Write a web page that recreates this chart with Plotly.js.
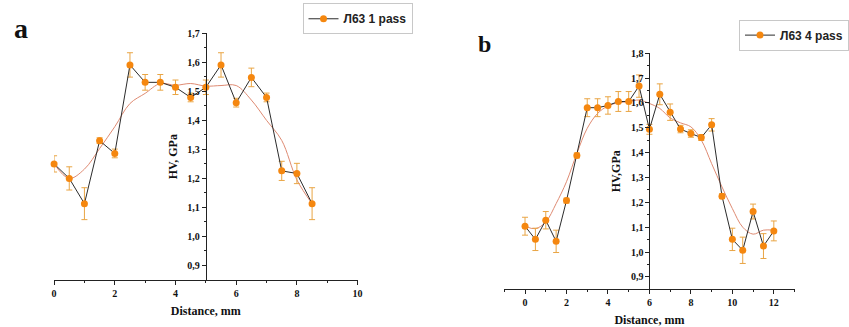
<!DOCTYPE html>
<html>
<head>
<meta charset="utf-8">
<script src="https://cdn.plot.ly/plotly-3.0.1.min.js"></script>
<style>html,body{margin:0;padding:0;background:#fff;}#chart{width:849px;height:327px;}</style>
</head>
<body>
<div id="chart"></div>
<script>
// ---- Data: panel a (Л63 1 pass) ----
const xA = [0, 0.5, 1, 1.5, 2, 2.5, 3, 3.5, 4, 4.5, 5, 5.5, 6, 6.5, 7, 7.5, 8, 8.5];
const hvA = [1.25, 1.20, 1.113, 1.33, 1.286, 1.591, 1.531, 1.531, 1.514, 1.479, 1.514, 1.591, 1.461, 1.548, 1.479, 1.226, 1.217, 1.113];
const errA = [0.028, 0.04, 0.055, 0.01, 0.015, 0.042, 0.027, 0.027, 0.025, 0.015, 0.025, 0.042, 0.015, 0.032, 0.015, 0.033, 0.035, 0.055];
const smoothA = [1.25, 1.20, 1.232, 1.303, 1.378, 1.458, 1.493, 1.527, 1.521, 1.527, 1.518, 1.52, 1.52, 1.47, 1.40, 1.331, 1.195, 1.113];

// ---- Data: panel b (Л63 4 pass) ----
const xB = [0, 0.5, 1, 1.5, 2, 2.5, 3, 3.5, 4, 4.5, 5, 5.5, 6, 6.5, 7, 7.5, 8, 8.5, 9, 9.5, 10, 10.5, 11, 11.5, 12];
const hvB = [1.104, 1.051, 1.128, 1.043, 1.207, 1.389, 1.581, 1.581, 1.59, 1.606, 1.606, 1.668, 1.494, 1.635, 1.563, 1.495, 1.477, 1.461, 1.512, 1.225, 1.051, 1.007, 1.163, 1.024, 1.085];
const errB = [0.036, 0.045, 0.035, 0.045, 0.01, 0.01, 0.036, 0.036, 0.035, 0.04, 0.04, 0.045, 0.02, 0.042, 0.033, 0.015, 0.015, 0.012, 0.025, 0.01, 0.045, 0.053, 0.03, 0.05, 0.04];
const smoothB = [1.104, 1.094, 1.121, 1.195, 1.283, 1.397, 1.498, 1.558, 1.588, 1.601, 1.605, 1.612, 1.598, 1.578, 1.54, 1.52, 1.504, 1.451, 1.356, 1.262, 1.175, 1.10, 1.072, 1.088, 1.088];

const legendA = 'Л63 1 pass';
const legendB = 'Л63 4 pass';

const orange = '#f5870f';
const errColor = '#e9a544';
const smoothColor = '#de8a72';
const lineColor = '#2b2b2b';
const serif = 'Liberation Serif, Times New Roman, serif';
const sans = 'Liberation Sans, Arial, sans-serif';

const traces = [
  {x: xA, y: smoothA, type: 'scatter', mode: 'lines', line: {color: smoothColor, width: 1, shape: 'spline'}, showlegend: false, xaxis: 'x', yaxis: 'y', hoverinfo: 'skip'},
  {x: xA, y: hvA, type: 'scatter', mode: 'lines+markers', name: legendA,
   line: {color: lineColor, width: 1}, marker: {color: orange, size: 7},
   error_y: {type: 'data', array: errA, visible: true, color: errColor, thickness: 1, width: 3},
   xaxis: 'x', yaxis: 'y', legend: 'legend', cliponaxis: false},
  {x: xB, y: smoothB, type: 'scatter', mode: 'lines', line: {color: smoothColor, width: 1, shape: 'spline'}, showlegend: false, xaxis: 'x2', yaxis: 'y2', hoverinfo: 'skip'},
  {x: xB, y: hvB, type: 'scatter', mode: 'lines+markers', name: legendB,
   line: {color: lineColor, width: 1}, marker: {color: orange, size: 7},
   error_y: {type: 'data', array: errB, visible: true, color: errColor, thickness: 1, width: 3},
   xaxis: 'x2', yaxis: 'y2', legend: 'legend2', cliponaxis: false}
];

const tickFont = {family: serif, size: 10, color: '#111', weight: 'bold'};
const titleFont = {family: serif, size: 12, color: '#111', weight: 'bold'};

function xAxis(domain, range, anchor) {
  return {domain: domain, range: range, anchor: anchor, showline: true, linecolor: '#222', linewidth: 1,
    showgrid: false, zeroline: false, ticks: 'outside', ticklen: 4, tickcolor: '#222', dtick: 2, tick0: 0,
    minor: {ticks: 'outside', ticklen: 2, dtick: 1, tickcolor: '#222', showgrid: false},
    tickfont: tickFont, title: {text: 'Distance, mm', font: titleFont, standoff: 8}};
}
function yAxis(domain, range, pos, title) {
  return {domain: domain, range: range, anchor: 'free', position: pos, showline: true, linecolor: '#222', linewidth: 1,
    showgrid: false, zeroline: false, ticks: 'outside', ticklen: 4, tickcolor: '#222', dtick: 0.1, tick0: 0,
    tickformat: '.1f', minor: {ticks: 'outside', ticklen: 2, dtick: 0.05, tickcolor: '#222', showgrid: false},
    tickfont: tickFont, title: {text: title, font: titleFont, standoff: 6}};
}

const layout = {
  width: 849, height: 327, margin: {l: 0, r: 0, t: 0, b: 0},
  paper_bgcolor: '#fff', plot_bgcolor: 'rgba(0,0,0,0)',
  separators: ',.',
  xaxis: xAxis([0.064, 0.4232], [0, 10], 'y'),
  yaxis: yAxis([0.1437, 0.8982], [0.85, 1.7], 0.2436, 'HV, GPa'),
  xaxis2: xAxis([0.5968, 0.9403], [-1, 13], 'y2'),
  yaxis2: yAxis([0.1153, 0.837], [0.85, 1.8], 0.7686, 'HV,GPa'),
  legend: {x: 0.358, y: 0.99, xanchor: 'left', yanchor: 'top', bgcolor: '#fff', bordercolor: '#c8c8c8', borderwidth: 1,
    font: {family: sans, size: 12, color: '#222', weight: 'bold'}, itemwidth: 30, tracegroupgap: 0},
  legend2: {x: 0.875, y: 0.94, xanchor: 'left', yanchor: 'top', bgcolor: '#fff', bordercolor: '#c8c8c8', borderwidth: 1,
    font: {family: sans, size: 12, color: '#222', weight: 'bold'}, itemwidth: 30, tracegroupgap: 0},
  annotations: [
    {text: 'a', x: 0.0145, y: 0.86, xref: 'paper', yref: 'paper', xanchor: 'left', yanchor: 'bottom', showarrow: false,
     font: {family: serif, size: 28, color: '#111', weight: 'bold'}},
    {text: 'b', x: 0.563, y: 0.82, xref: 'paper', yref: 'paper', xanchor: 'left', yanchor: 'bottom', showarrow: false,
     font: {family: serif, size: 24, color: '#111', weight: 'bold'}}
  ],
  showlegend: true
};

Plotly.newPlot('chart', traces, layout, {displayModeBar: false, staticPlot: true});
</script>
</body>
</html>
